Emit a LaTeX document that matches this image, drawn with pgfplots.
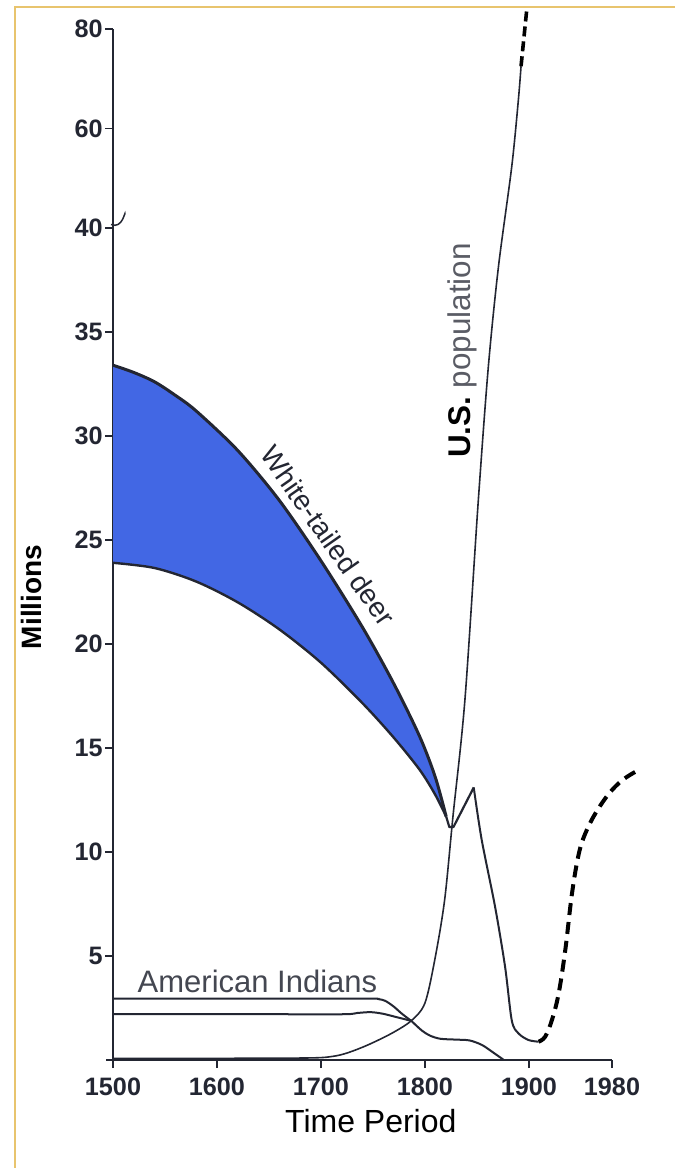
\documentclass[border=0pt]{standalone}
\usepackage{fontspec}
\setmainfont{Liberation Sans}
\usepackage{pgfplots}
\usepackage{pgfplotstable}
\pgfplotsset{compat=1.18}
\usepgfplotslibrary{fillbetween}
\definecolor{deerblue}{RGB}{66,103,228}
\definecolor{ink}{RGB}{35,38,50}
\definecolor{framegold}{RGB}{232,196,110}

% y axis is broken at 40: above 40 the scale is compressed
% (plotted value = 40 + 0.239*(millions-40)); 60 -> 44.78, 80 -> 49.56

\pgfplotstableread{
year value
1500 33.4
1520 33.05
1540 32.6
1560 31.95
1580 31.2
1620 29.3
1660 26.9
1700 24.0
1740 20.8
1770 18.1
1795 15.55
1810 13.6
1820.5 11.7
}\deerupper

\pgfplotstableread{
year value
1500 23.9
1540 23.65
1580 23.0
1620 22.0
1660 20.7
1700 19.1
1740 17.15
1770 15.5
1795 13.95
1810 12.75
1820.5 11.7
}\deerlower

\pgfplotstableread{
year value
1820.5 11.7
1823.5 11.2
1827.5 11.2
1847 13.1
}\deerv

\pgfplotstableread{
year value
1847 13.1
1854.6 10.6
1867.4 7.4
1877.1 4.5
1883.6 1.9
1890 1.28
1899.7 0.96
1909.4 0.88
}\deerdown

\pgfplotstableread{
year value
1909.4 0.88
1915.7 1.12
1922.2 1.92
1928.7 3.2
1935.1 5.3
1941.5 8.0
1948 9.9
1954.4 10.9
1964.1 11.86
1977 12.8
1989.9 13.45
2002.7 13.86
}\deerrecent

% US population (millions; last rows on compressed scale: 52.4, 65.9, 72.5)
\pgfplotstableread{
year value
1500 0.08
1600 0.08
1690 0.1
1712 0.18
1726 0.35
1745 0.72
1768 1.28
1787 1.89
1800 2.73
1809.5 4.81
1819 7.69
1827 11.7
1838.5 17.3
1851.4 26.9
1861 33.3
1870.7 38.1
1883.6 42.96
1890 46.19
1892.5 47.77
}\uspop

% projection: 72.5 -> 84.5 millions (compressed scale)
\pgfplotstableread{
year value
1892.5 47.77
1898.3 50.64
}\uspopproj

\pgfplotstableread{
year value
1500 2.95
1650 2.95
1745 2.95
1755 2.93
1762 2.84
1770 2.57
1778 2.22
1787 1.88
}\indhigh

\pgfplotstableread{
year value
1500 2.2
1650 2.2
1722 2.2
1735 2.26
1748 2.3
1760 2.22
1772 2.07
1787 1.88
}\indlow

\pgfplotstableread{
year value
1787 1.88
1797 1.42
1805 1.17
1815 1.02
1830 0.98
1843 0.94
1855 0.72
1866 0.35
1876 0.0
}\indlate

\begin{document}
\begin{tikzpicture}
\path (0,0) rectangle (338pt,584.5pt);

\begin{axis}[
  at={(56.5pt,54.5pt)}, anchor=south west,
  scale only axis, width=249.5pt, height=515.5pt,
  xmin=1500, xmax=1980, ymin=0, ymax=49.56,
  axis lines=left,
  axis line style={-, draw=ink, line width=0.75pt},
  x axis line style={shorten <=-3.5pt},
  xtick={1500,1600,1700,1800,1900,1980},
  xticklabels={1500,1600,1700,1800,1900,1980},
  ytick={5,10,15,20,25,30,35,40,44.78,49.56},
  yticklabels={5,10,15,20,25,30,35,40,60,80},
  tick align=outside, major tick length=4pt,
  tick style={draw=ink, line width=0.75pt},
  ticklabel style={font=\fontsize{12.6}{12.6}\selectfont\bfseries, text=ink},
  yticklabel style={inner xsep=1pt},
  xticklabel style={yshift=-1.5pt},
  clip=false,
]
% deer band
\addplot[name path=dup, draw=none, smooth] table[x=year,y=value] {\deerupper};
\addplot[name path=dlo, draw=none, smooth] table[x=year,y=value] {\deerlower};
\addplot[deerblue] fill between[of=dup and dlo];
\addplot[ink, line width=1.5pt, smooth] table[x=year,y=value] {\deerupper};
\addplot[ink, line width=1.2pt, smooth] table[x=year,y=value] {\deerlower};
\addplot[ink, line width=1.1pt, line join=round] table[x=year,y=value] {\deerv};
\addplot[ink, line width=1.0pt, smooth, tension=0.5] table[x=year,y=value] {\deerdown};
\addplot[black, line width=2pt, smooth, tension=0.6, dash pattern=on 6pt off 3.5pt] table[x=year,y=value] {\deerrecent};
% US population
\addplot[ink, line width=0.8pt, smooth, tension=0.5] table[x=year,y=value] {\uspop};
\addplot[black, line width=1.8pt, dash pattern=on 5pt off 2.5pt] table[x=year,y=value] {\uspopproj};
% American Indians
\addplot[ink, line width=1pt, smooth, tension=0.5] table[x=year,y=value] {\indhigh};
\addplot[ink, line width=1pt, smooth, tension=0.5] table[x=year,y=value] {\indlow};
\addplot[ink, line width=1pt, smooth, tension=0.5] table[x=year,y=value] {\indlate};

% axis break mark
\draw[ink, line width=0.75pt] (axis cs:1500,40.45) +(-1pt,-3pt) .. controls +(6pt,-2.5pt) and +(0pt,2.5pt) .. +(6pt,2pt);

% labels
\node[font=\fontsize{14}{14}\selectfont, text=ink, rotate=-55] at (axis cs:1707,25.2) {White-tailed deer};
\node[font=\fontsize{15.7}{15.7}\selectfont, rotate=90] at (axis cs:1836,34.1) {\textbf{\color{black}U.S.} {\color{ink!75}population}};
\node[font=\fontsize{15.5}{15.5}\selectfont, text=ink!85, anchor=base] at (axis cs:1639,3.25) {American Indians};
\node[font=\fontsize{14}{14}\selectfont\bfseries, text=black, rotate=90] at (axis cs:1421.7,22.26) {Millions};
\node[font=\fontsize{16}{16}\selectfont, text=black] at (axis cs:1748,-2.93) {Time Period};
\end{axis}

\draw[framegold, line width=1pt] (7.5pt,0.5pt) -- (7.5pt,581pt) -- (337.5pt,581pt);
\pgfresetboundingbox
\path[use as bounding box] (0,0) rectangle (338pt,584.5pt);
\end{tikzpicture}
\end{document}
